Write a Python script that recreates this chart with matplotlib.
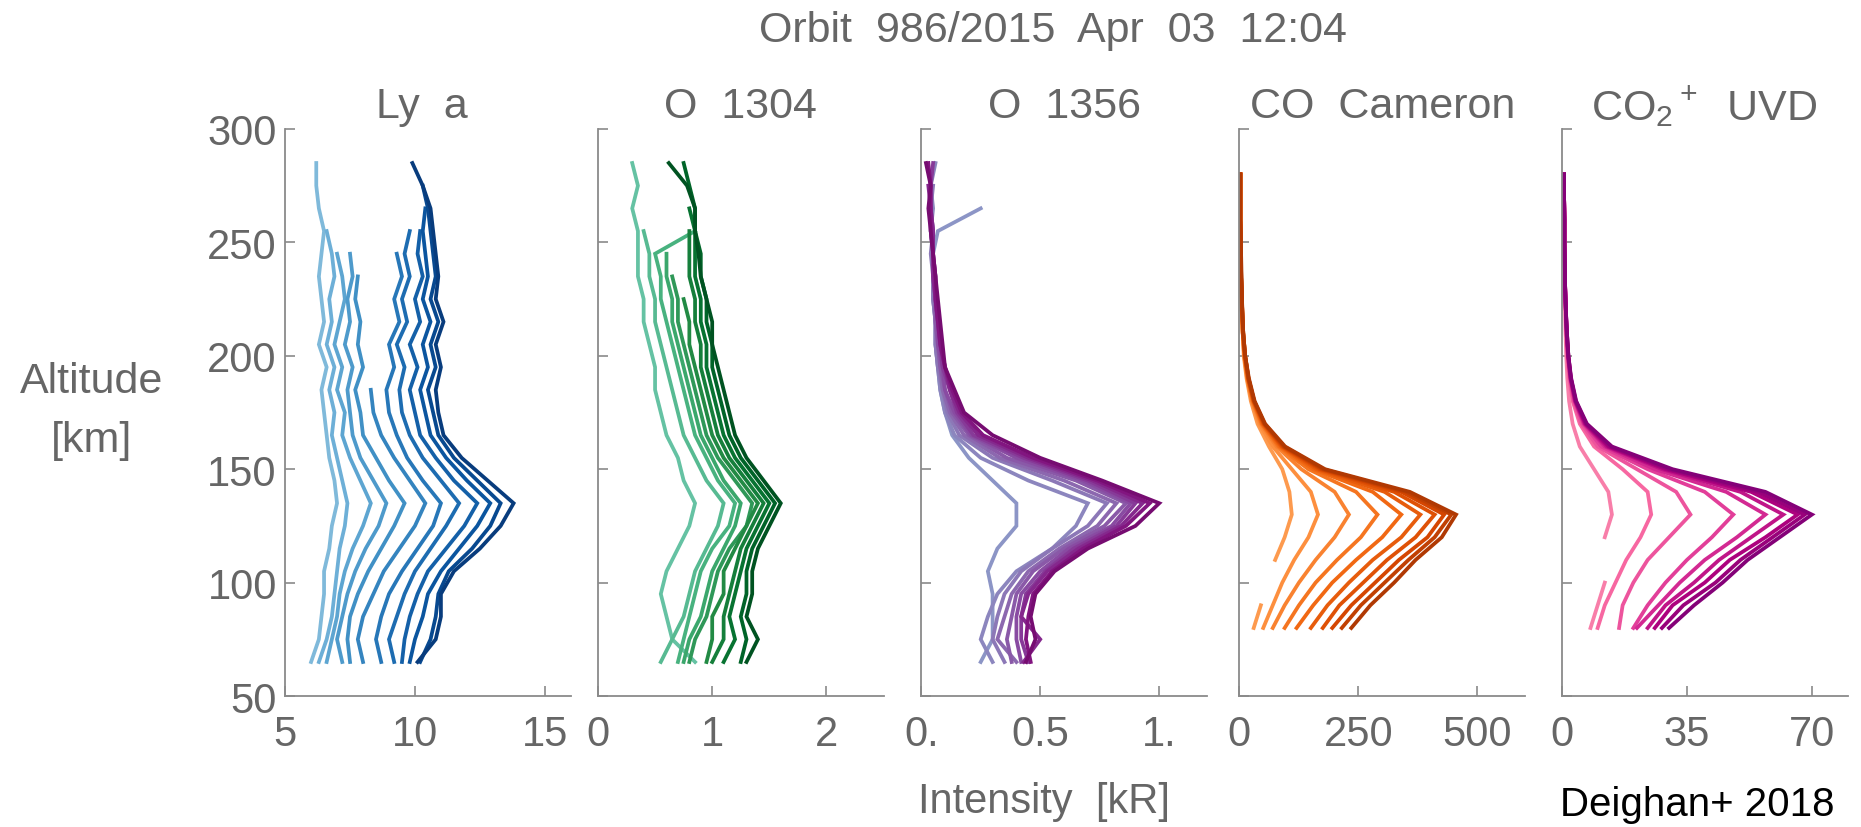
import numpy as np
import matplotlib
matplotlib.use("Agg")
import matplotlib.pyplot as plt

plt.rcParams["font.family"] = ["Liberation Sans", "DejaVu Sans"]
plt.rcParams["mathtext.fontset"] = "custom"
plt.rcParams["mathtext.rm"] = "Liberation Sans"
plt.rcParams["mathtext.it"] = "Liberation Sans"

n = np.nan
TXT = "#666666"
AXC = "#8a8a8a"

# altitude grids [km]
alt_a = [65, 75, 85, 95, 105, 115, 125, 135, 145, 155, 165, 175,
         185, 195, 205, 215, 225, 235, 245, 255, 265, 275, 285]
alt_b = [80, 90, 100, 110, 120, 130, 140, 150, 160, 170, 180,
         190, 200, 210, 220, 230, 240, 250, 260, 270, 280]

# Ly a profiles [kR], light -> dark
lya = [
    [6.0, 6.3, 6.4, 6.5, 6.5, 6.7, 6.8, 7.0, 6.9, 6.7, 6.6, 6.5, 6.4, 6.6, 6.3, 6.5, 6.4, 6.3, 6.4, 6.5, 6.3, 6.2, 6.2],
    [6.3, 6.6, 6.8, 6.9, 7.0, 7.1, 7.3, 7.4, 7.2, 7.0, 6.8, 6.9, 6.7, 6.9, 6.6, 6.8, 6.7, 6.9, 6.8, 6.6, n, n, n],
    [6.6, 6.8, 7.0, 7.1, 7.3, 7.6, 8.0, 8.3, 7.9, 7.5, 7.2, 7.3, 7.0, 7.2, 6.9, 7.1, 7.3, 7.2, 7.0, n, n, n, n],
    [7.2, 7.0, 7.2, 7.4, 7.7, 8.1, 8.6, 8.9, 8.4, 7.9, 7.6, 7.5, 7.4, 7.6, 7.3, 7.5, 7.4, 7.6, 7.5, n, n, n, n],
    [7.5, 7.4, 7.5, 7.8, 8.2, 8.7, 9.2, 9.6, 9.0, 8.5, 8.0, 7.9, 7.7, 8.0, 7.8, 7.9, 7.7, 7.8, n, n, n, n, n],
    [8.0, 7.8, 8.0, 8.4, 8.8, 9.4, 10.0, 10.4, 9.8, 9.2, 8.7, 8.4, 8.3, n, n, n, n, n, n, n, n, n, n],
    [8.7, 8.5, 8.7, 9.0, 9.5, 10.1, 10.7, 11.0, 10.3, 9.7, 9.3, 9.0, 8.9, 9.2, 9.0, 9.4, 9.2, 9.5, 9.3, n, n, n, n],
    [9.2, 9.0, 9.3, 9.6, 10.0, 10.6, 11.2, 11.7, 11.0, 10.3, 9.8, 9.5, 9.4, 9.6, 9.3, 9.7, 9.5, 9.8, 9.6, 9.8, n, n, n],
    [9.5, 9.6, 9.8, 10.1, 10.5, 11.2, 11.9, 12.4, 11.5, 10.8, 10.2, 10.0, 9.8, 10.1, 9.8, 10.2, 10.0, 10.3, 10.1, 10.2, n, n, n],
    [9.8, 10.0, 10.3, 10.5, 11.0, 11.7, 12.4, 12.9, 12.0, 11.2, 10.6, 10.4, 10.2, 10.5, 10.3, 10.6, 10.3, 10.5, 10.4, 10.3, 10.4, n, n],
    [10.2, 10.6, 10.8, 10.9, 11.3, 12.2, 12.9, 13.3, 12.4, 11.5, 10.9, 10.7, 10.5, 10.8, 10.6, 10.9, 10.6, 10.8, 10.7, 10.6, 10.5, 10.3, n],
    [10.1, 10.8, 11.0, 11.0, 11.5, 12.5, 13.3, 13.8, 12.8, 11.8, 11.1, 10.9, 10.8, 11.0, 10.8, 11.1, 10.8, 10.9, 10.8, 10.7, 10.6, 10.3, 9.9],
]

# O 1304 profiles [kR]
o1304 = [
    [0.85, 0.65, 0.6, 0.55, 0.6, 0.7, 0.8, 0.85, 0.75, 0.7, 0.6, 0.55, 0.5, 0.5, 0.45, 0.4, 0.4, 0.35, 0.35, 0.35, 0.3, 0.35, 0.3],
    [0.55, 0.65, 0.75, 0.8, 0.85, 0.95, 1.05, 1.1, 0.95, 0.85, 0.75, 0.7, 0.65, 0.6, 0.55, 0.5, 0.5, 0.45, 0.45, 0.4, n, n, n],
    [0.7, 0.75, 0.8, 0.85, 0.9, 1.0, 1.15, 1.2, 1.05, 0.95, 0.85, 0.8, 0.75, 0.7, 0.65, 0.6, 0.55, 0.55, 0.5, 0.85, n, n, n],
    [0.75, 0.8, 0.9, 0.95, 1.0, 1.1, 1.2, 1.25, 1.1, 1.0, 0.9, 0.85, 0.8, 0.75, 0.7, 0.65, 0.65, 0.6, 0.6, n, n, n, n],
    [0.8, 0.85, 0.95, 1.0, 1.05, 1.15, 1.3, 1.35, 1.2, 1.05, 0.95, 0.9, 0.85, 0.8, 0.75, 0.7, 0.7, 0.65, n, n, n, n, n],
    [0.95, 1.0, 1.0, 1.1, 1.1, 1.2, 1.3, 1.4, 1.25, 1.1, 1.0, 0.95, 0.9, 0.85, 0.8, 0.8, 0.75, n, n, n, n, n, n],
    [1.0, 1.1, 1.1, 1.15, 1.2, 1.25, 1.35, 1.45, 1.3, 1.15, 1.05, 1.0, 0.95, 0.9, 0.9, 0.85, 0.85, 0.8, 0.8, 0.8, n, n, n],
    [1.1, 1.2, 1.15, 1.2, 1.25, 1.3, 1.4, 1.5, 1.35, 1.2, 1.1, 1.05, 1.0, 0.95, 0.95, 0.9, 0.9, 0.85, 0.85, 0.85, 0.8, n, n],
    [1.25, 1.3, 1.25, 1.3, 1.3, 1.35, 1.45, 1.55, 1.4, 1.25, 1.15, 1.1, 1.05, 1.0, 1.0, 0.95, 0.95, 0.9, 0.9, 0.85, 0.85, 0.8, 0.75],
    [1.3, 1.4, 1.3, 1.35, 1.35, 1.4, 1.5, 1.6, 1.45, 1.3, 1.2, 1.15, 1.1, 1.05, 1.0, 1.0, 0.95, 0.9, 0.88, 0.85, 0.85, 0.78, 0.62],
]

# O 1356 profiles [kR]
o1356 = [
    [0.25, 0.3, 0.3, 0.3, 0.28, 0.32, 0.4, 0.4, 0.3, 0.2, 0.13, 0.1, 0.08, 0.07, 0.06, 0.06, 0.05, 0.05, 0.05, 0.07, 0.25, n, n],
    [0.3, 0.25, 0.28, 0.32, 0.4, 0.55, 0.65, 0.7, 0.45, 0.25, 0.14, 0.1, 0.08, 0.07, 0.06, 0.06, 0.05, 0.05, 0.05, 0.04, 0.05, 0.04, 0.06],
    [0.35, 0.3, 0.32, 0.35, 0.42, 0.55, 0.7, 0.78, 0.55, 0.3, 0.16, 0.11, 0.09, 0.07, 0.06, 0.06, 0.05, 0.05, 0.04, 0.05, 0.04, 0.05, n],
    [0.4, 0.32, 0.35, 0.38, 0.45, 0.58, 0.74, 0.82, 0.6, 0.33, 0.18, 0.12, 0.09, 0.08, 0.07, 0.06, 0.06, 0.05, 0.05, 0.04, 0.04, n, n],
    [0.38, 0.36, 0.38, 0.4, 0.47, 0.6, 0.77, 0.86, 0.65, 0.36, 0.2, 0.13, 0.1, 0.08, 0.07, 0.06, 0.06, 0.05, 0.05, 0.05, n, n, n],
    [0.42, 0.4, 0.4, 0.42, 0.5, 0.62, 0.8, 0.88, 0.68, 0.4, 0.21, 0.14, 0.1, 0.09, 0.07, 0.07, 0.06, 0.05, 0.05, n, n, n, n],
    [0.45, 0.42, 0.42, 0.44, 0.52, 0.64, 0.82, 0.9, 0.7, 0.43, 0.22, 0.15, 0.12, 0.09, 0.08, 0.07, 0.06, 0.06, 0.05, 0.05, 0.04, 0.04, 0.05],
    [0.43, 0.5, 0.42, 0.45, 0.53, 0.66, 0.84, 0.93, 0.72, 0.45, 0.24, 0.16, 0.12, 0.1, 0.08, 0.07, 0.06, 0.05, 0.05, 0.05, 0.04, 0.03, n],
    [0.46, 0.44, 0.45, 0.47, 0.55, 0.68, 0.86, 0.96, 0.74, 0.47, 0.26, 0.17, 0.13, 0.1, 0.08, 0.07, 0.06, 0.06, 0.05, 0.04, 0.04, 0.04, 0.03],
    [0.44, 0.48, 0.46, 0.48, 0.56, 0.7, 0.9, 1.0, 0.76, 0.5, 0.3, 0.18, 0.14, 0.1, 0.09, 0.08, 0.07, 0.06, 0.05, 0.04, 0.03, 0.04, 0.02],
]

# CO Cameron profiles [kR]
co_cam = [
    [30, 45, n, 75, 95, 110, 105, 90, 62, 38, 24, 15, 9, 7, 5, 4, 3, 3, 2, 2, 2],
    [50, 70, 90, 115, 145, 165, 150, 110, 70, 42, 26, 16, 10, 7, 5, 4, 3, 3, 2, 2, 2],
    [70, 95, 125, 160, 200, 230, 200, 130, 78, 45, 27, 17, 10, 7, 5, 4, 3, 3, 2, 2, 2],
    [95, 125, 160, 205, 255, 290, 245, 145, 82, 47, 28, 17, 11, 7, 5, 4, 3, 3, 2, 2, 2],
    [120, 155, 195, 245, 300, 340, 280, 155, 85, 48, 29, 18, 11, 7, 5, 4, 3, 3, 2, 2, 2],
    [150, 185, 230, 280, 340, 380, 305, 162, 88, 50, 30, 18, 11, 8, 6, 4, 3, 3, 2, 2, 2],
    [175, 210, 260, 310, 370, 410, 325, 168, 90, 51, 30, 19, 12, 8, 6, 4, 3, 3, 2, 2, 2],
    [195, 235, 285, 335, 395, 430, 340, 172, 92, 52, 31, 19, 12, 8, 6, 4, 3, 3, 2, 2, 2],
    [215, 255, 305, 355, 410, 445, 350, 176, 94, 53, 31, 19, 12, 8, 6, 5, 3, 3, 2, 2, 2],
    [235, 275, 325, 370, 425, 455, 358, 180, 96, 54, 32, 20, 12, 8, 6, 5, 4, 3, 2, 2, 2],
]

# CO2+ UVD profiles [kR]
co2p = [
    [8, 10, 12, n, 12, 14, 13, 9, 5, 3, 2, 1.5, 1.2, 1, 0.9, 0.8, 0.8, 0.7, 0.7, 0.6, 0.6],
    [10, 12, 15, 18, 22, 25, 24, 17, 9, 5, 3, 2, 1.5, 1.2, 1, 0.9, 0.8, 0.7, 0.7, 0.6, 0.6],
    [16, 17, 20, 24, 30, 36, 32, 21, 10, 5.5, 3.2, 2.2, 1.6, 1.3, 1.1, 0.9, 0.8, 0.7, 0.7, 0.6, 0.6],
    [20, 24, 29, 35, 42, 48, 40, 24, 11, 6, 3.5, 2.3, 1.7, 1.3, 1.1, 0.9, 0.8, 0.7, 0.7, 0.6, 0.6],
    [21, 27, 33, 40, 49, 57, 46, 26, 12, 6.2, 3.6, 2.4, 1.7, 1.3, 1.1, 0.9, 0.8, 0.7, 0.7, 0.6, 0.6],
    [24, 29, 37, 44, 53, 62, 50, 28, 12.5, 6.4, 3.7, 2.4, 1.7, 1.3, 1.1, 0.9, 0.8, 0.7, 0.7, 0.6, 0.6],
    [26, 31, 40, 47, 57, 66, 53, 29, 13, 6.6, 3.8, 2.5, 1.8, 1.4, 1.1, 0.9, 0.8, 0.7, 0.7, 0.6, 0.6],
    [28, 34, 43, 50, 59, 68, 55, 30, 13.5, 6.8, 3.9, 2.5, 1.8, 1.4, 1.1, 0.9, 0.8, 0.7, 0.7, 0.6, 0.6],
    [30, 37, 45, 52, 61, 70, 57, 31, 14, 7, 4, 2.6, 1.8, 1.4, 1.1, 0.9, 0.8, 0.7, 0.7, 0.6, 0.6],
]

titles = ["Ly  a", "O  1304", "O  1356", "CO  Cameron", r"CO$_2$$^+$  UVD"]
xlims = [(5, 16), (0, 2.5), (0, 1.2), (0, 600), (0, 80)]
xticks = [[5, 10, 15], [0, 1, 2], [0, 0.5, 1], [0, 250, 500], [0, 35, 70]]
xticklabels = [["5", "10", "15"], ["0", "1", "2"], ["0.", "0.5", "1."],
               ["0", "250", "500"], ["0", "35", "70"]]
yticks = [50, 100, 150, 200, 250, 300]

panels = [(alt_a, lya, "Blues", 0.45, 0.95),
          (alt_a, o1304, "BuGn", 0.5, 0.95),
          (alt_a, o1356, "BuPu", 0.5, 0.9),
          (alt_b, co_cam, "Oranges", 0.45, 0.85),
          (alt_b, co2p, "RdPu", 0.45, 0.85)]

fig = plt.figure(figsize=(18.61, 8.28), dpi=100)
lefts = [0.1532, 0.3213, 0.4950, 0.6660, 0.8393]
bottom, height, width = 0.1582, 0.6848, 0.1535
title_x = [0.48, 0.5, 0.5, 0.5, 0.5]

for i, (alts, profs, cmap_name, c0, c1) in enumerate(panels):
    ax = fig.add_axes([lefts[i], bottom, width, height])
    cmap = plt.get_cmap(cmap_name)
    cols = cmap(np.linspace(c0, c1, len(profs)))
    for prof, col in zip(profs, cols):
        ax.plot(prof, alts, color=col, lw=2.7, solid_joinstyle="miter")
    ax.set_xlim(*xlims[i])
    ax.set_ylim(50, 300)
    ax.set_xticks(xticks[i])
    ax.set_xticklabels(xticklabels[i])
    ax.set_yticks(yticks)
    if i > 0:
        ax.set_yticklabels([])
    for s in ["top", "right"]:
        ax.spines[s].set_visible(False)
    for s in ["left", "bottom"]:
        ax.spines[s].set_color(AXC)
        ax.spines[s].set_linewidth(1.3)
    ax.tick_params(direction="in", length=7, width=1.2, color=AXC,
                   labelcolor=TXT, labelsize=30)
    ax.tick_params(axis="x", pad=13)
    ax.tick_params(axis="y", pad=6)
    ax.text(title_x[i], 1.04, titles[i], transform=ax.transAxes,
            ha="center", va="center", fontsize=31, color=TXT)

fig.text(0.566, 0.962, "Orbit  986/2015  Apr  03  12:04", ha="center",
         va="center", fontsize=31, color=TXT)
fig.text(0.049, 0.539, "Altitude", ha="center", va="center", fontsize=31, color=TXT)
fig.text(0.049, 0.467, "[km]", ha="center", va="center", fontsize=31, color=TXT)
fig.text(0.561, 0.031, "Intensity  [kR]", ha="center", va="center", fontsize=30, color=TXT)
fig.text(0.838, 0.014, "Deighan+ 2018", ha="left", va="baseline", fontsize=29, color="black")

fig.savefig("out.png", dpi=100)
